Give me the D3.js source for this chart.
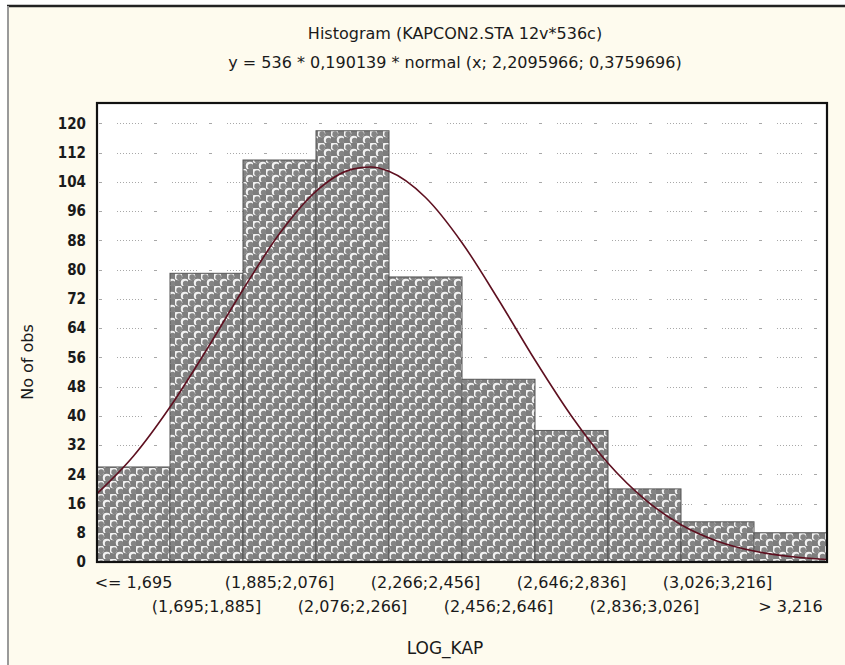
<!DOCTYPE html>
<html>
<head>
<meta charset="utf-8">
<script src="https://cdn.jsdelivr.net/npm/d3@7"></script>
<style>
  body { margin: 0; background: #fff; }
  text { font-family: "DejaVu Sans", Arial, sans-serif; fill: #1a1a1a; }
</style>
</head>
<body>
<div id="chart"></div>
<script>
// bins of LOG_KAP and counts
var binLabels = ["<= 1,695", "(1,695;1,885]", "(1,885;2,076]", "(2,076;2,266]", "(2,266;2,456]",
                 "(2,456;2,646]", "(2,646;2,836]", "(2,836;3,026]", "(3,026;3,216]", "> 3,216"];
var counts = [26, 79, 110, 118, 78, 50, 36, 20, 11, 8];

// fitted normal curve (x in LOG_KAP units)
var curveX = [1.505, 1.600, 1.695, 1.790, 1.885, 1.980, 2.075, 2.170, 2.218, 2.265, 2.360,
              2.456, 2.551, 2.646, 2.741, 2.836, 2.931, 3.026, 3.121, 3.216, 3.311, 3.406];
var curveY = [18.7, 29.0, 42.4, 58.0, 74.5, 89.8, 101.4, 107.5, 108.1, 106.9, 99.8,
              87.3, 71.7, 55.2, 39.9, 27.0, 17.2, 10.2, 5.7, 3.0, 1.5, 0.7];

var yTicks = [0, 8, 16, 24, 32, 40, 48, 56, 64, 72, 80, 88, 96, 104, 112, 120];

var title1 = "Histogram (KAPCON2.STA 12v*536c)";
var title2 = "y = 536 * 0,190139 * normal (x; 2,2095966; 0,3759696)";

var W = 845, H = 665;
var plot = {left: 97, right: 827, top: 103, bottom: 562};

var svg = d3.select("#chart").append("svg")
    .attr("width", W)
    .attr("height", H);

// window background
svg.append("rect").attr("x", 0).attr("y", 0).attr("width", W).attr("height", H).attr("fill", "#fff");
svg.append("rect").attr("x", 8).attr("y", 6).attr("width", W - 8).attr("height", H - 6).attr("fill", "#fefbee");
svg.append("line").attr("x1", 7).attr("x2", W).attr("y1", 6).attr("y2", 6)
    .attr("stroke", "#222").attr("stroke-width", 2.5);
svg.append("line").attr("x1", 8).attr("x2", 8).attr("y1", 6).attr("y2", H)
    .attr("stroke", "#9a9a9a").attr("stroke-width", 2);

// bar fill pattern
var defs = svg.append("defs");
var pat = defs.append("pattern")
    .attr("id", "chk")
    .attr("patternUnits", "userSpaceOnUse")
    .attr("x", plot.left).attr("y", 0)
    .attr("width", 13).attr("height", 13);
pat.append("rect").attr("width", 13).attr("height", 13).attr("fill", "#7d7d7d");
[[3.25, 3.25], [9.75, 9.75]].forEach(function(c) {
  pat.append("circle").attr("cx", c[0]).attr("cy", c[1]).attr("r", 4).attr("fill", "#f2f2f2");
  pat.append("circle").attr("cx", c[0] + 0.9).attr("cy", c[1] + 0.9).attr("r", 2.8).attr("fill", "#848484");
});

var x = d3.scaleBand()
    .domain(binLabels)
    .range([plot.left, plot.right])
    .padding(0);

var xv = d3.scaleLinear()
    .domain([1.504861, 3.406251])
    .range([plot.left, plot.right]);

var y = d3.scaleLinear()
    .domain([0, 125.6])
    .range([plot.bottom, plot.top]);

// plot area
svg.append("rect")
    .attr("x", plot.left).attr("y", plot.top)
    .attr("width", plot.right - plot.left).attr("height", plot.bottom - plot.top)
    .attr("fill", "#fff");

// dotted grid
svg.append("g")
  .selectAll("line")
  .data(yTicks.filter(function(d) { return d > 0; }))
  .enter().append("line")
    .attr("x1", plot.left + 2).attr("x2", plot.right)
    .attr("y1", function(d) { return Math.round(y(d)) + 0.5; })
    .attr("y2", function(d) { return Math.round(y(d)) + 0.5; })
    .attr("stroke", "#a8a8a8")
    .attr("stroke-width", 1)
    .attr("stroke-dasharray", "3,15,1,2,1,2,1,2,1,2,1,2,1,2,1,2,1,2,1,12");

// bars
svg.append("g")
  .selectAll("rect")
  .data(counts)
  .enter().append("rect")
    .attr("x", function(d, i) { return x(binLabels[i]); })
    .attr("y", function(d) { return y(d); })
    .attr("width", x.bandwidth())
    .attr("height", function(d) { return y(0) - y(d); })
    .attr("fill", "url(#chk)")
    .attr("stroke", "#555")
    .attr("stroke-width", 1);

// normal curve
var line = d3.line()
    .x(function(d, i) { return xv(curveX[i]); })
    .y(function(d) { return y(d); })
    .curve(d3.curveMonotoneX);

svg.append("path")
    .datum(curveY)
    .attr("d", line)
    .attr("fill", "none")
    .attr("stroke", "#5e1020")
    .attr("stroke-width", 1.6);

// frame
svg.append("rect")
    .attr("x", plot.left).attr("y", plot.top)
    .attr("width", plot.right - plot.left).attr("height", plot.bottom - plot.top)
    .attr("fill", "none")
    .attr("stroke", "#111")
    .attr("stroke-width", 2.2);

// y axis labels
var yAxis = d3.axisLeft(y).tickValues(yTicks).tickSize(0).tickPadding(10);
var gy = svg.append("g")
    .attr("transform", "translate(" + (plot.left - 1) + ",0)")
    .call(yAxis);
gy.select(".domain").remove();
gy.selectAll("text")
    .style("font-family", "'DejaVu Sans Condensed', 'DejaVu Sans', sans-serif")
    .style("font-stretch", "condensed")
    .style("font-size", "15px")
    .style("font-weight", "bold")
    .attr("fill", "#111");

// x axis labels, alternating rows
var xAxis = d3.axisBottom(x).tickSize(0).tickPadding(0);
var gx = svg.append("g")
    .attr("transform", "translate(0," + plot.bottom + ")")
    .call(xAxis);
gx.select(".domain").remove();
gx.selectAll("text")
    .attr("dy", null)
    .attr("y", function(d, i) { return i % 2 === 0 ? 26 : 50; })
    .style("font-family", "'DejaVu Sans', sans-serif")
    .style("font-size", "16px")
    .attr("fill", "#111");

// titles
svg.append("text")
    .attr("x", 455).attr("y", 39)
    .attr("text-anchor", "middle")
    .style("font-size", "16px")
    .text(title1);

svg.append("text")
    .attr("x", 455).attr("y", 68)
    .attr("text-anchor", "middle")
    .style("font-size", "16px")
    .text(title2);

svg.append("text")
    .attr("x", 445).attr("y", 654)
    .attr("text-anchor", "middle")
    .style("font-size", "17px")
    .text("LOG_KAP");

svg.append("text")
    .attr("transform", "translate(33,362) rotate(-90)")
    .attr("text-anchor", "middle")
    .style("font-size", "16px")
    .text("No of obs");
</script>
</body>
</html>
